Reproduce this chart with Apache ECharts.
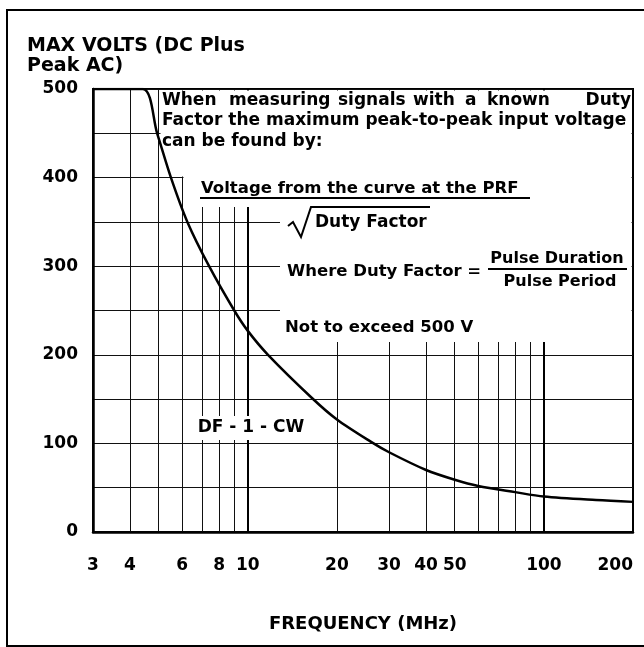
<!DOCTYPE html>
<html>
<head>
<meta charset="utf-8">
<script src="https://cdn.jsdelivr.net/npm/echarts@6/dist/echarts.min.js"></script>
<style>
  html, body { margin: 0; padding: 0; background: #fff; }
  #chart { width: 644px; height: 647px; }
</style>
</head>
<body>
<div id="chart"></div>
<script>
// curve DF - 1 - CW
const freq  = [3, 4.42, 4.94, 5.5, 6.25, 7.4, 9.0, 10, 11.7, 16.5, 20, 26, 30, 40, 50, 60, 80, 100, 150, 200];
const volts = [500, 500, 450, 400, 350, 300, 250, 227, 200, 151, 127, 102, 90, 70, 59, 52, 45, 40, 36, 34];

// axes
const gridFreqs  = [4, 5, 6, 7, 8, 9, 10, 20, 30, 40, 50, 60, 70, 80, 90, 100];
const freqLabels = [3, 4, 6, 8, 10, 20, 30, 40, 50, 100, 200];
const heavyFreqs = [10, 100];

const FONT = '"DejaVu Sans", Verdana, sans-serif';

function txt(text, x, y, size, align) {
  return {
    type: 'text', z: 20, x: x, y: y,
    style: {
      text: text, fill: '#000', fontSize: size, fontWeight: 'bold', fontFamily: FONT,
      textAlign: align || 'left', textVerticalAlign: 'middle'
    }
  };
}
function mask(x, y, w, h) {
  return { type: 'rect', z: 15, shape: { x: x, y: y, width: w, height: h }, style: { fill: '#fff' } };
}
function seg(x1, y1, x2, y2, w) {
  return { type: 'line', z: 20, shape: { x1: x1, y1: y1, x2: x2, y2: y2 }, style: { stroke: '#000', lineWidth: w || 2 } };
}

let chartDom = document.getElementById('chart');
let myChart = echarts.init(chartDom);
let option;

option = {
  animation: false,
  backgroundColor: '#fff',
  title: {
    text: 'MAX VOLTS (DC Plus\nPeak AC)',
    left: 22, top: 31,
    textStyle: { fontSize: 19, fontWeight: 'bold', fontFamily: FONT, color: '#000', lineHeight: 20 }
  },
  grid: {
    left: 93, right: 11, top: 89, bottom: 115,
    show: true, borderColor: '#000', borderWidth: 2
  },
  xAxis: {
    type: 'log', logBase: 10, min: 3, max: 200,
    name: 'FREQUENCY (MHz)', nameLocation: 'middle', nameGap: 83,
    nameTextStyle: { fontSize: 18, fontWeight: 'bold', fontFamily: FONT, color: '#000' },
    axisLine: { show: true, lineStyle: { color: '#000', width: 2.5 } },
    axisTick: { show: false, customValues: gridFreqs },
    minorTick: { show: false },
    splitLine: { show: true, lineStyle: { color: '#111', width: 1 } },
    axisLabel: {
      customValues: freqLabels, margin: 25, alignMaxLabel: 'right',
      fontSize: 17, fontWeight: 'bold', fontFamily: FONT, color: '#000'
    }
  },
  yAxis: {
    type: 'value', min: 0, max: 500, interval: 50,
    axisLine: { show: true, lineStyle: { color: '#000', width: 2.5 } },
    axisTick: { show: false },
    splitLine: { show: true, lineStyle: { color: '#111', width: 1 } },
    axisLabel: {
      margin: 15, fontSize: 17, fontWeight: 'bold', fontFamily: FONT, color: '#000',
      formatter: v => (v % 100 === 0 ? String(v) : '')
    }
  },
  series: [
    {
      // heavier decade lines at 10 and 100
      type: 'line', data: [], z: 1,
      markLine: {
        silent: true, symbol: 'none', label: { show: false },
        lineStyle: { color: '#000', width: 2, type: 'solid' },
        data: heavyFreqs.map(f => ({ xAxis: f }))
      }
    },
    {
      name: 'DF - 1 - CW',
      type: 'line', z: 30,
      smooth: 0.3, symbol: 'none',
      lineStyle: { color: '#000', width: 2.5 },
      data: freq.map((f, i) => [f, volts[i]])
    }
  ],
  graphic: [
    // outer frame
    { type: 'rect', z: 0, shape: { x: 7, y: 10, width: 700, height: 636 }, style: { fill: 'none', stroke: '#000', lineWidth: 2 } },
    // white areas behind the notes
    mask(160.5, 90.5, 471, 86),
    mask(183.5, 176, 448, 31),
    mask(280, 206, 351.5, 136),
    mask(193, 416, 114, 24),
    // notes
    txt('When', 162, 101, 17),
    txt('measuring', 229, 101, 17),
    txt('signals', 338, 101, 17),
    txt('with', 413, 101, 17),
    txt('a', 465, 101, 17),
    txt('known', 487, 101, 17),
    txt('Duty', 631, 101, 17, 'right'),
    txt('Factor the maximum peak-to-peak input voltage', 162, 121, 17),
    txt('can be found by:', 162, 142, 17),
    txt('Voltage from the curve at the PRF', 201, 189, 16.5),
    seg(200, 198, 530, 198, 2),
    { type: 'polyline', z: 20, shape: { points: [[288, 226], [293, 222], [301, 237], [311, 207], [430, 207]] },
      style: { fill: 'none', stroke: '#000', lineWidth: 2 } },
    txt('Duty Factor', 315, 223, 17),
    txt('Where Duty Factor =', 287, 272, 16.5),
    txt('Pulse Duration', 557, 259, 16, 'center'),
    seg(488, 269, 627, 269, 2),
    txt('Pulse Period', 560, 282, 16, 'center'),
    txt('Not to exceed 500 V', 285, 328, 16.5),
    txt('DF - 1 - CW', 251, 428, 17, 'center')
  ]
};
myChart.setOption(option);
</script>
</body>
</html>
